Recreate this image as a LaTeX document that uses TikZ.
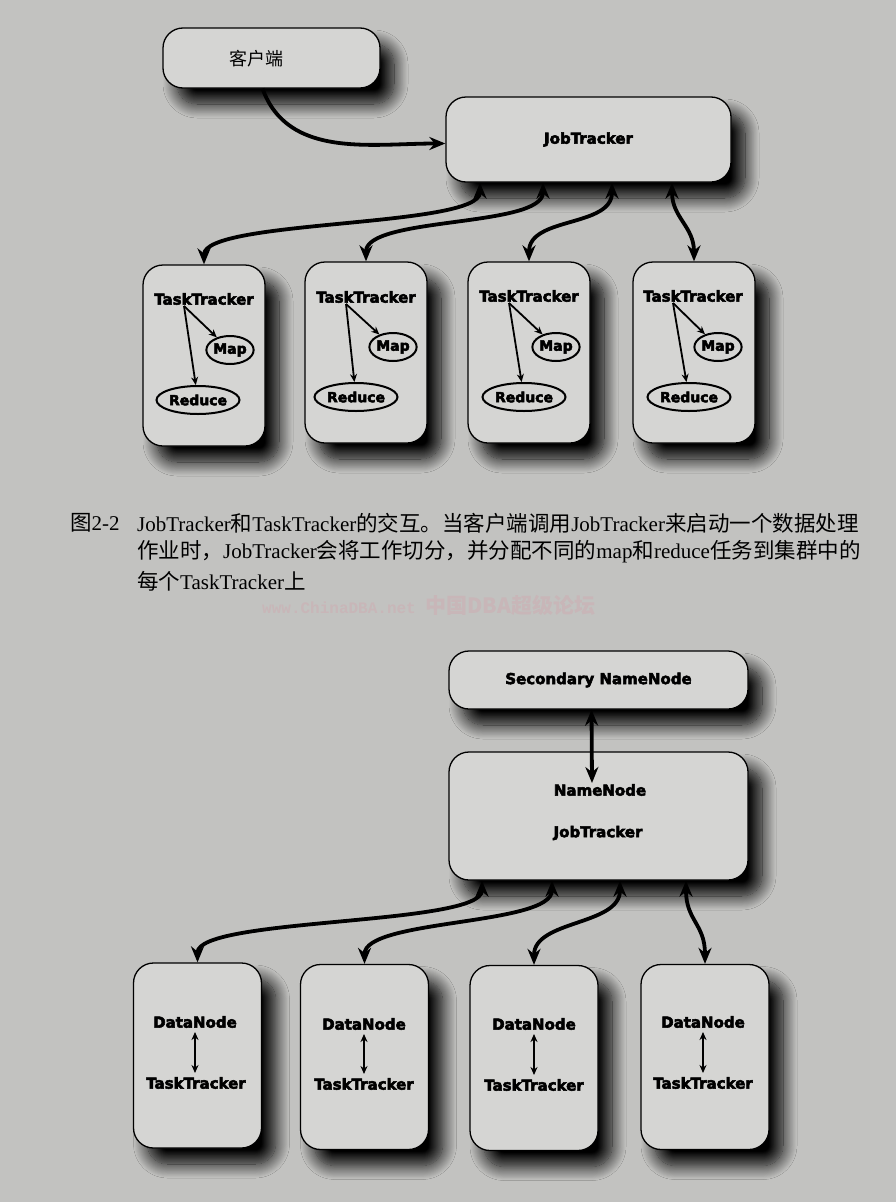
\documentclass[tikz,border=0pt]{standalone}
\usepackage{fontspec}
\usetikzlibrary{arrows.meta,shapes.geometric,shadows.blur}
\newfontfamily\lblfont{DejaVu Sans}[BoldFeatures={FakeBold=3.5}]
\newfontfamily\cjk{Noto Sans CJK SC}
\newfontfamily\capfont{Liberation Serif}
\newfontfamily\markfont{Liberation Mono}
\newcommand{\zh}[1]{{\cjk\fontsize{21.5}{26}\selectfont #1}}
\definecolor{pagec}{RGB}{194,194,192}
\definecolor{boxc}{RGB}{213,213,211}
\definecolor{markc}{RGB}{200,182,184}

\begin{document}
\begin{tikzpicture}[x=1pt, y=1pt,
    box/.style={draw, line width=1.3pt, fill=boxc, rounded corners=20pt, inner sep=0pt,
        blur shadow={shadow xshift=14pt, shadow yshift=-16pt, shadow blur radius=14pt,
                     shadow blur steps=16, shadow opacity=100}},
    lbl/.style={font=\lblfont\bfseries\fontsize{15}{17}\selectfont, inner sep=1pt},
    task/.style={ellipse, draw, line width=2pt, inner sep=0pt, minimum height=28pt,
        font=\lblfont\bfseries\fontsize{14}{16}\selectfont},
    link/.style={line width=3.8pt, {Stealth[length=16pt,width=13pt]}-{Stealth[length=16pt,width=13pt]}},
    go/.style={line width=3.8pt, -{Stealth[length=16pt,width=13pt]}},
    sub/.style={line width=1.8pt, -{Stealth[length=8pt,width=7pt]}},
    subboth/.style={line width=1.8pt, {Stealth[length=8pt,width=7pt]}-{Stealth[length=8pt,width=7pt]},
        shorten <=3pt, shorten >=3pt},
    capline/.style={anchor=west, inner sep=0pt, font=\capfont\fontsize{21}{24}\selectfont}
]
    \useasboundingbox (0,0) rectangle (896,-1202);
    \fill[pagec] (0,0) rectangle (896,-1202);

    % Nodes
    \node[box, minimum width=217pt, minimum height=60pt] (C) at (271.5,-58) {};
    \node[font=\cjk\fontsize{18}{20}\selectfont] (Ct) at (256,-59) {客户端};
    \node[box, lbl, minimum width=285pt, minimum height=85pt] (JT) at (588.5,-139.5) {JobTracker};

    \node[box, minimum width=122pt, minimum height=181pt] (T1) at (204,-355.5) {};
    \node[box, minimum width=122pt, minimum height=181pt] (T2) at (366,-352.5) {};
    \node[box, minimum width=122pt, minimum height=181pt] (T3) at (529,-352.5) {};
    \node[box, minimum width=122pt, minimum height=181pt] (T4) at (694,-352.5) {};

    \node[lbl] (tt1) at (204,-299) {TaskTracker};
    \node[lbl] (tt2) at (366,-297) {TaskTracker};
    \node[lbl] (tt3) at (529,-296) {TaskTracker};
    \node[lbl] (tt4) at (693,-296) {TaskTracker};
    \node[task, minimum width=47pt] (m1) at (230,-350) {Map};
    \node[task, minimum width=47pt] (m2) at (393,-347) {Map};
    \node[task, minimum width=47pt] (m3) at (556,-347) {Map};
    \node[task, minimum width=47pt] (m4) at (718,-347) {Map};
    \node[task, minimum width=83pt] (r1) at (198,-400) {Reduce};
    \node[task, minimum width=83pt] (r2) at (356,-397) {Reduce};
    \node[task, minimum width=83pt] (r3) at (524,-397) {Reduce};
    \node[task, minimum width=83pt] (r4) at (689,-397) {Reduce};

    \draw[sub] ([xshift=-20pt]tt1.south) -- (m1);
    \draw[sub] ([xshift=-20pt]tt1.south) -- (r1);
    \draw[sub] ([xshift=-20pt]tt2.south) -- (m2);
    \draw[sub] ([xshift=-20pt]tt2.south) -- (r2);
    \draw[sub] ([xshift=-20pt]tt3.south) -- (m3);
    \draw[sub] ([xshift=-20pt]tt3.south) -- (r3);
    \draw[sub] ([xshift=-20pt]tt4.south) -- (m4);
    \draw[sub] ([xshift=-20pt]tt4.south) -- (r4);

    % Arrows
    \draw[go] ([xshift=-9pt]C.south) to[out=-70, in=180] ([yshift=-4pt]JT.west);
    \draw[link] ([xshift=-108.5pt]JT.south) .. controls +(0,-45) and +(0,45) .. (T1.north);
    \draw[link] ([xshift=-45.5pt]JT.south) .. controls +(0,-45) and +(0,45) .. (T2.north);
    \draw[link] ([xshift=23.5pt]JT.south) .. controls +(0,-45) and +(0,45) .. (T3.north);
    \draw[link] ([xshift=83.5pt]JT.south) .. controls +(0,-35) and +(0,35) .. (T4.north);

    % Caption
    \node[capline] (fig) at (70,-523) {\zh{图}2-2};
    \node[capline] (cap1) at (137,-523) {JobTracker\zh{和}TaskTracker\zh{的交互。当客户端调用}JobTracker\zh{来启动一个数据处理}};
    \node[capline] (cap2) at (137,-552) {\zh{作业时，}JobTracker\zh{会将工作切分，并分配不同的}map\zh{和}reduce\zh{任务到集群中的}};
    \node[capline] (cap3) at (137,-581) {\zh{每个}TaskTracker\zh{上}};
    \node[anchor=west, inner sep=0pt, text=markc, font=\markfont\bfseries\fontsize{16}{18}\selectfont] (wm) at (262,-605) {www.ChinaDBA.net {\cjk\fontsize{21}{22}\selectfont 中国DBA超级论坛}};

    % Nodes
    \node[box, lbl, minimum width=299pt, minimum height=58pt] (S) at (598.5,-680) {Secondary NameNode};
    \node[box, minimum width=299pt, minimum height=128pt] (NJ) at (598.5,-816) {};
    \node[lbl] (nn) at (600,-790) {NameNode};
    \node[lbl] (nj) at (598,-833) {JobTracker};

    \node[box, minimum width=128pt, minimum height=185pt] (D1) at (197.5,-1055.5) {};
    \node[box, minimum width=128pt, minimum height=185pt] (D2) at (364.5,-1057) {};
    \node[box, minimum width=128pt, minimum height=185pt] (D3) at (534,-1058) {};
    \node[box, minimum width=128pt, minimum height=185pt] (D4) at (705,-1057) {};

    \node[lbl] (dn1) at (195,-1022) {DataNode};
    \node[lbl] (dn2) at (364,-1024) {DataNode};
    \node[lbl] (dn3) at (534,-1024) {DataNode};
    \node[lbl] (dn4) at (703,-1022) {DataNode};
    \node[lbl] (tk1) at (196,-1083) {TaskTracker};
    \node[lbl] (tk2) at (364,-1084) {TaskTracker};
    \node[lbl] (tk3) at (534,-1085) {TaskTracker};
    \node[lbl] (tk4) at (703,-1083) {TaskTracker};

    \draw[subboth] (dn1.south) -- (dn1.south |- tk1.north);
    \draw[subboth] (dn2.south) -- (dn2.south |- tk2.north);
    \draw[subboth] (dn3.south) -- (dn3.south |- tk3.north);
    \draw[subboth] (dn4.south) -- (dn4.south |- tk4.north);

    % Arrows
    \draw[link] ([xshift=-7pt]S.south) -- ([xshift=-8pt]nn.north);
    \draw[link] ([xshift=-116.5pt]NJ.south) .. controls +(0,-45) and +(0,45) .. (D1.north);
    \draw[link] ([xshift=-46.5pt]NJ.south) .. controls +(0,-45) and +(0,45) .. (D2.north);
    \draw[link] ([xshift=21.5pt]NJ.south) .. controls +(0,-45) and +(0,45) .. (D3.north);
    \draw[link] ([xshift=87.5pt]NJ.south) .. controls +(0,-40) and +(0,40) .. (D4.north);
\end{tikzpicture}
\end{document}
